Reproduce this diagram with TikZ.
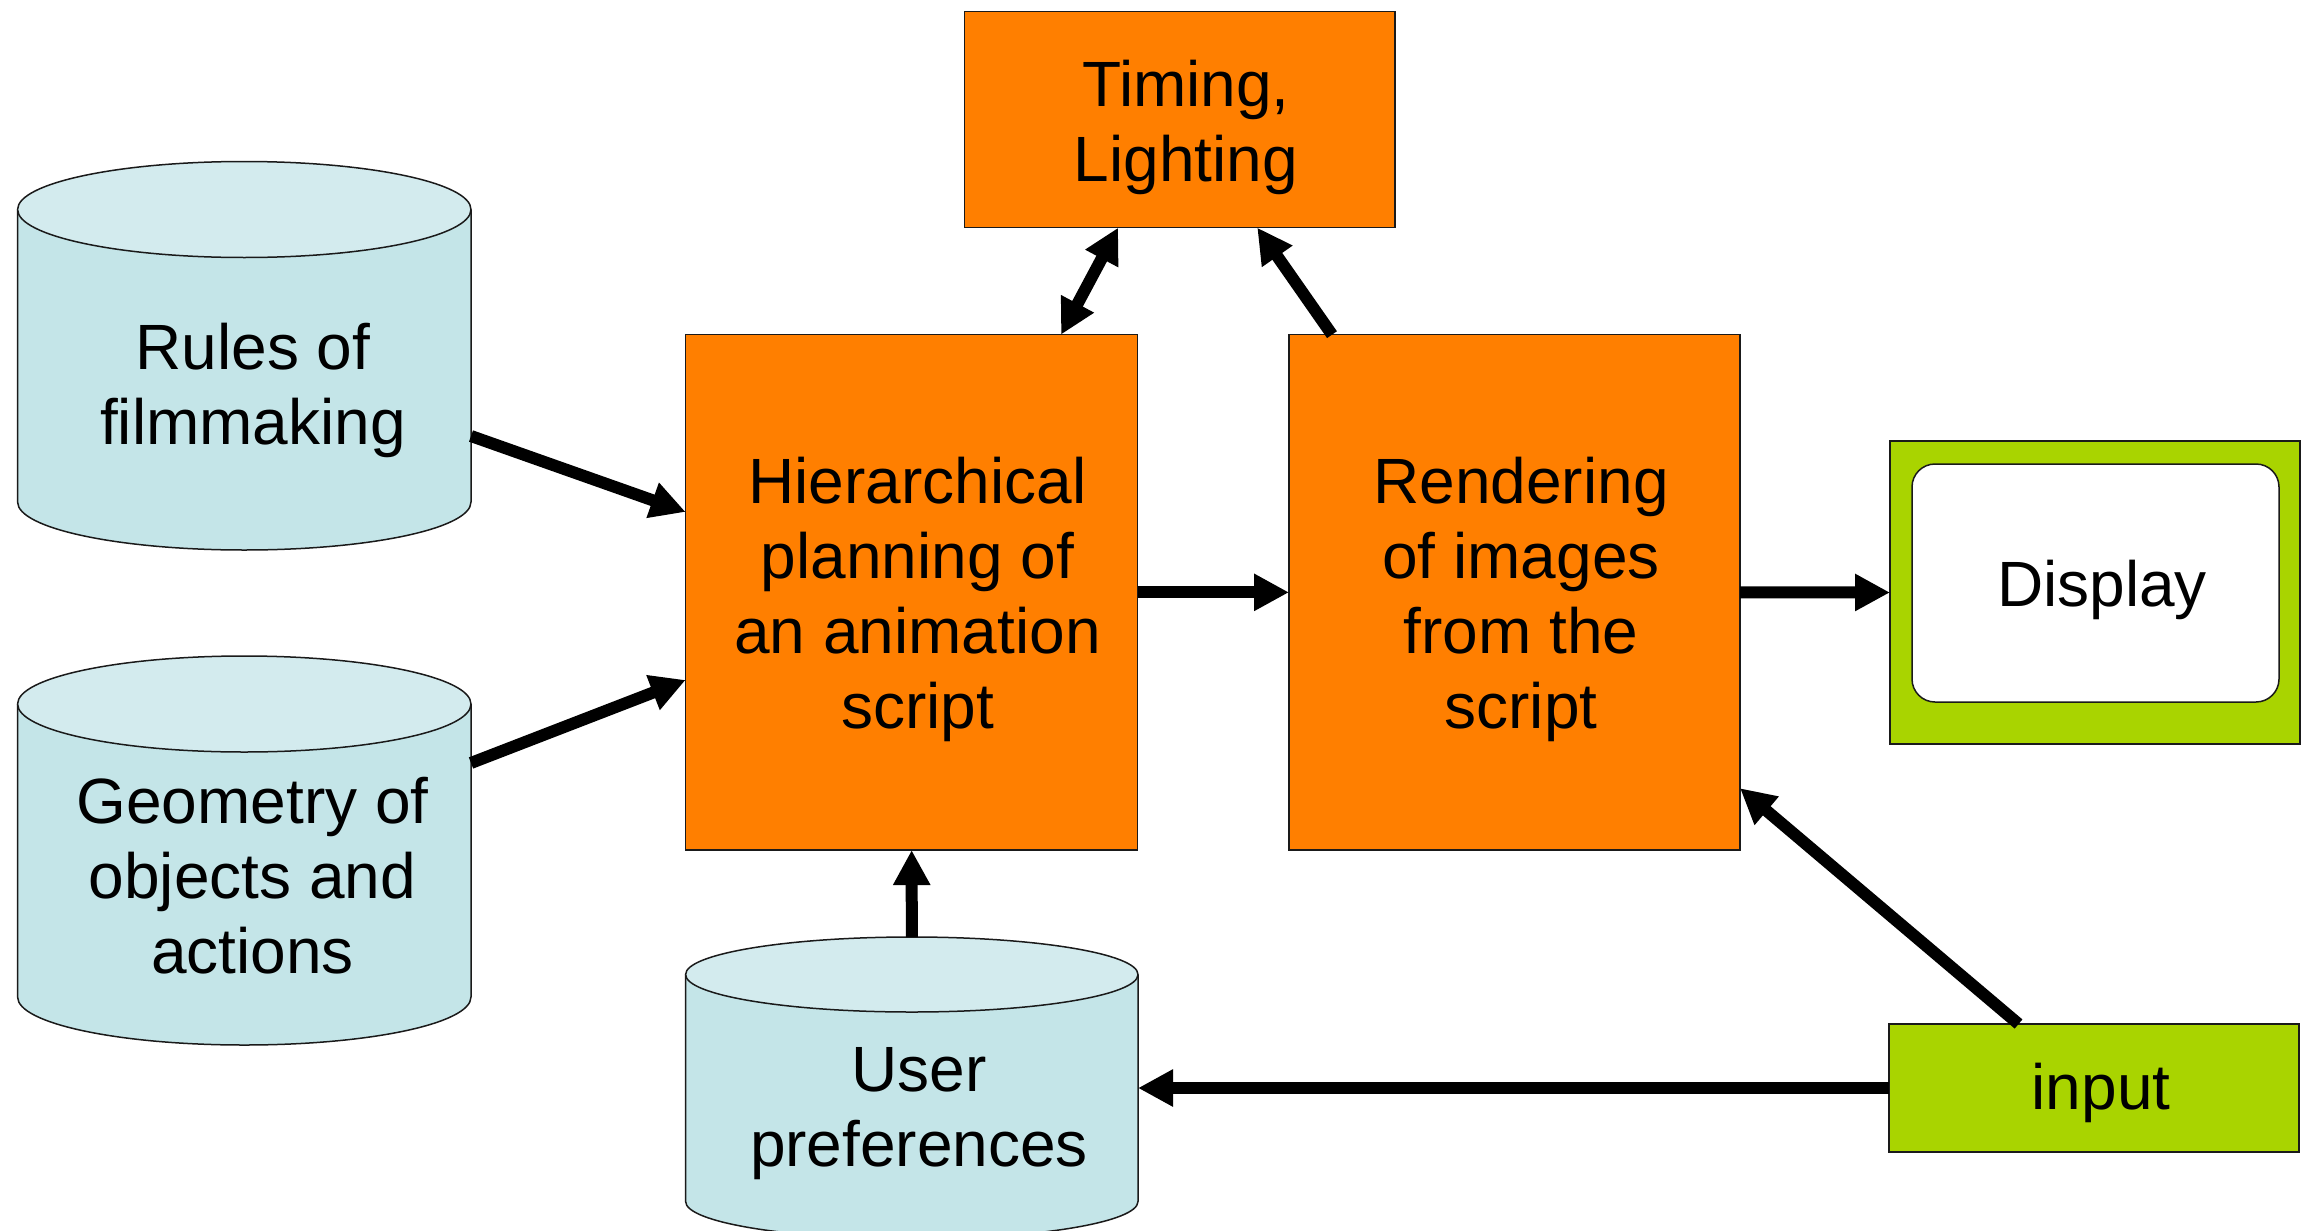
\documentclass[tikz,border=0pt]{standalone}
\usepackage{fontspec}
\setmainfont{Liberation Sans}
\usetikzlibrary{arrows.meta,calc}
\definecolor{boxorange}{HTML}{FF7F00}
\definecolor{dispgreen}{HTML}{A9D400}
\definecolor{cylbodyc}{HTML}{C4E5E8}
\definecolor{cyltopc}{HTML}{D3EBEE}
\definecolor{edgec}{HTML}{1A1A1A}
\tikzset{
  txt/.style={font=\fontsize{32}{37.5}\selectfont, align=center, inner sep=0pt},
  obox/.style={draw=edgec, line width=0.75pt, fill=boxorange, inner sep=0pt, outer sep=0pt},
  gbox/.style={draw=edgec, line width=0.75pt, fill=dispgreen, inner sep=0pt, outer sep=0pt},
  screenbox/.style={draw=edgec, line width=0.75pt, fill=white, rounded corners=11.5pt, inner sep=0pt, outer sep=0pt},
  cylarea/.style={inner sep=0pt, outer sep=0pt},
  cylbody/.style={fill=cylbodyc},
  cylline/.style={draw=edgec, line width=0.75pt},
  cyltop/.style={fill=cyltopc, draw=edgec, line width=0.75pt},
  arr/.style={line width=6pt, -{Triangle[length=17.5pt,width=17.5pt]}},
  darr/.style={line width=6pt, {Triangle[length=17.5pt,width=17.5pt]}-{Triangle[length=17.5pt,width=17.5pt]}}
}
% name, xl, xr, ytop, ybottom, ry  (pixels, y downward)
\newcommand\dbcyl[6]{%
  \pgfmathsetmacro\cylcx{(#2+#3)/2}%
  \pgfmathsetmacro\cylrx{(#3-#2)/2}%
  \pgfmathsetmacro\cylcy{-(#4+#5)/2}%
  \pgfmathsetmacro\cylw{(#3-#2)*0.5}%
  \pgfmathsetmacro\cylh{(#5-#4)*0.5}%
  \fill[cylbody] (#2,-#4-#6) -- (#2,-#5+#6) arc[start angle=180,end angle=360,x radius=\cylrx,y radius=#6] -- (#3,-#4-#6) -- cycle;
  \draw[cylline] (#2,-#4-#6) -- (#2,-#5+#6) arc[start angle=180,end angle=360,x radius=\cylrx,y radius=#6] -- (#3,-#4-#6);
  \filldraw[cyltop] (\cylcx,-#4-#6) ellipse[x radius=\cylrx, y radius=#6];
  \node[cylarea, minimum width=\cylw pt, minimum height=\cylh pt] (#1) at (\cylcx,\cylcy) {};
}
\begin{document}
\begin{tikzpicture}[x=0.5pt,y=0.5pt]
\useasboundingbox (0,0) rectangle (2302,-1231);

% databases
\dbcyl{rules}{17.6}{471}{161.5}{550}{48}
\node[txt] (rulesT) at (253,-390) {Rules of\\filmmaking};
\dbcyl{geom}{17.6}{471}{656}{1045}{48}
\node[txt] (geomT) at (252.5,-876) {Geometry of\\objects and\\actions};
\dbcyl{user}{685.6}{1138}{937}{1239}{37.5}
\node[txt] (userT) at (919,-1114) {User\\preferences};

% process boxes
\node[obox, minimum width=226pt, minimum height=257.7pt] (hier) at (911.65,-592.35) {};
\node[txt] (hierT) at (917.5,-599) {Hierarchical\\planning of\\an animation\\script};
\node[obox, minimum width=225.5pt, minimum height=257.7pt] (render) at (1514.5,-592.35) {};
\node[txt] (renderT) at (1521,-599) {Rendering\\of images\\from the\\script};
\node[obox, minimum width=215.25pt, minimum height=108pt] (timing) at (1179.75,-119.65) {};
\node[txt] (timingT) at (1186,-127.6) {Timing,\\Lighting};

% display and input
\node[gbox, minimum width=205pt, minimum height=151.5pt] (display) at (2095,-592.5) {};
\node[screenbox, minimum width=183.5pt, minimum height=119pt] (screen) at (2095.5,-583) {};
\node[txt] (displayT) at (2102,-590) {Display};
\node[gbox, minimum width=205pt, minimum height=64pt] (input) at (2094,-1088) {};
\node[txt] (inputT) at (2101,-1093) {input};

% connectors
\draw[arr] ($(rules.north east)!0.7066!(rules.south east)$) -- ($(hier.north west)!0.344!(hier.south west)$);
\draw[arr] ($(geom.north east)!0.275!(geom.south east)$) -- ($(hier.north west)!0.670!(hier.south west)$);
\draw[arr] (hier.east) -- (render.west);
\draw[arr] (render.east) -- (display.west);
\draw[darr] ($(hier.north west)!0.8305!(hier.north east)$) -- ($(timing.south west)!0.357!(timing.south east)$);
\draw[arr] ($(render.north west)!0.0953!(render.north east)$) -- ($(timing.south west)!0.680!(timing.south east)$);
\draw[arr] ($(input.north west)!0.316!(input.north east)$) -- ($(render.north east)!0.88!(render.south east)$);
\draw[arr] (input.west) -- (input.west -| user.east);
\draw[arr] (user.north) -- (hier.south);
\end{tikzpicture}
\end{document}
